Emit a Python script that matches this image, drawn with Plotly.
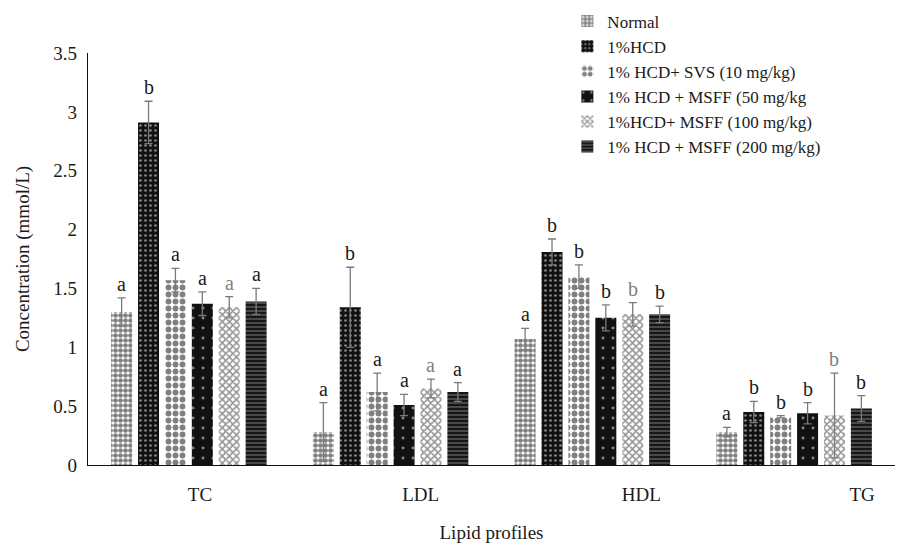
import plotly.graph_objects as go

# Lipid profile groups and treatment series
categories = ["TC", "LDL", "HDL", "TG"]
series_names = [
    "Normal",
    "1%HCD",
    "1% HCD+ SVS (10 mg/kg)",
    "1% HCD + MSFF (50 mg/kg",
    "1%HCD+ MSFF (100 mg/kg)",
    "1% HCD + MSFF (200 mg/kg)",
]

# Mean concentrations (mmol/L), one list per series over TC, LDL, HDL, TG
normal = [1.30, 0.28, 1.07, 0.28]
hcd = [2.91, 1.34, 1.81, 0.45]
svs10 = [1.57, 0.62, 1.60, 0.41]
msff50 = [1.37, 0.51, 1.25, 0.44]
msff100 = [1.34, 0.65, 1.28, 0.42]
msff200 = [1.39, 0.62, 1.28, 0.48]

# Standard deviations
normal_sd = [0.12, 0.25, 0.09, 0.04]
hcd_sd = [0.18, 0.34, 0.11, 0.09]
svs10_sd = [0.10, 0.16, 0.10, 0.01]
msff50_sd = [0.10, 0.09, 0.11, 0.09]
msff100_sd = [0.09, 0.08, 0.10, 0.36]
msff200_sd = [0.11, 0.08, 0.07, 0.11]

# Significance letters
normal_sig = ["a", "a", "a", "a"]
hcd_sig = ["b", "b", "b", "b"]
svs10_sig = ["a", "a", "b", "b"]
msff50_sig = ["a", "a", "b", "b"]
msff100_sig = ["a", "a", "b", "b"]
msff200_sig = ["a", "a", "b", "b"]

values = [normal, hcd, svs10, msff50, msff100, msff200]
sds = [normal_sd, hcd_sd, svs10_sd, msff50_sd, msff100_sd, msff200_sd]
sigs = [normal_sig, hcd_sig, svs10_sig, msff50_sig, msff100_sig, msff200_sig]

patterns = [
    dict(shape=".", fgcolor="#000000", bgcolor="#ffffff", size=5, solidity=0.7),
    dict(shape=".", fgcolor="#ffffff", bgcolor="#111111", size=5, solidity=0.22),
    dict(shape=".", fgcolor="#000000", bgcolor="#ffffff", size=7, solidity=0.55),
    dict(shape=".", fgcolor="#ffffff", bgcolor="#111111", size=10, solidity=0.07),
    dict(shape="x", fgcolor="#2a2a2a", bgcolor="#ffffff", size=5, solidity=0.55),
    dict(shape="-", fgcolor="#ffffff", bgcolor="#161616", size=4, solidity=0.22),
]
letter_colors = ["#1a1a1a", "#1a1a1a", "#1a1a1a", "#1a1a1a", "#808080", "#1a1a1a"]

font_family = "Liberation Serif, Times New Roman, serif"
text_color = "#1a1a1a"
bargap = 0.2
n = len(series_names)

fig = go.Figure()
for i, name in enumerate(series_names):
    fig.add_trace(go.Bar(
        name=name,
        x=categories,
        y=values[i],
        marker=dict(pattern=patterns[i], line=dict(width=0)),
        error_y=dict(type="data", array=sds[i], color="#7a7a7a",
                     thickness=1.3, width=4),
    ))

# Category labels on an overlaid axis
fig.add_trace(go.Scatter(x=categories, y=[None] * len(categories), xaxis="x2",
                         mode="markers", showlegend=False, hoverinfo="skip"))

slot = (1 - bargap) / n
for i in range(n):
    for j in range(len(categories)):
        xpos = j - (1 - bargap) / 2 + slot * (i + 0.5)
        fig.add_annotation(
            x=xpos, y=values[i][j] + sds[i][j], xref="x", yref="y",
            text=sigs[i][j], showarrow=False, yanchor="bottom", yshift=1,
            font=dict(family=font_family, size=20, color=letter_colors[i]),
        )

fig.update_layout(
    width=899, height=545,
    margin=dict(l=88, r=4, t=47, b=80),
    paper_bgcolor="white", plot_bgcolor="white",
    barmode="group", bargap=bargap, bargroupgap=0.22,
    font=dict(family=font_family, size=17, color=text_color),
    showlegend=True,
    legend=dict(x=0.594, y=1.12, xanchor="left", yanchor="top",
                font=dict(family=font_family, size=17, color=text_color),
                bgcolor="rgba(0,0,0,0)", tracegroupgap=0, itemwidth=30),
    xaxis=dict(type="category", range=[-0.5, 3.5], showticklabels=False,
               showline=True, linecolor="#111111", linewidth=1.2, automargin=False,
               ticks="", showgrid=False, zeroline=False),
    xaxis2=dict(type="category", overlaying="x", side="bottom", anchor="y",
                range=[-0.507, 3.149], showline=False, showgrid=False, automargin=False,
                ticks="outside", ticklen=12, tickcolor="rgba(0,0,0,0)",
                tickfont=dict(family=font_family, size=19, color=text_color),
                title=dict(text="Lipid profiles", standoff=21,
                           font=dict(family=font_family, size=19, color=text_color))),
    yaxis=dict(range=[0, 3.5], dtick=0.5, showline=True, linecolor="#111111",
               linewidth=1.2, ticks="outside", ticklen=6, tickcolor="rgba(0,0,0,0)",
               showgrid=False, zeroline=False, automargin=False,
               tickfont=dict(family=font_family, size=19, color=text_color),
               title=dict(text="Concentration (mmol/L)", standoff=18,
                          font=dict(family=font_family, size=19, color=text_color))),
)

fig.write_html("out.html")
